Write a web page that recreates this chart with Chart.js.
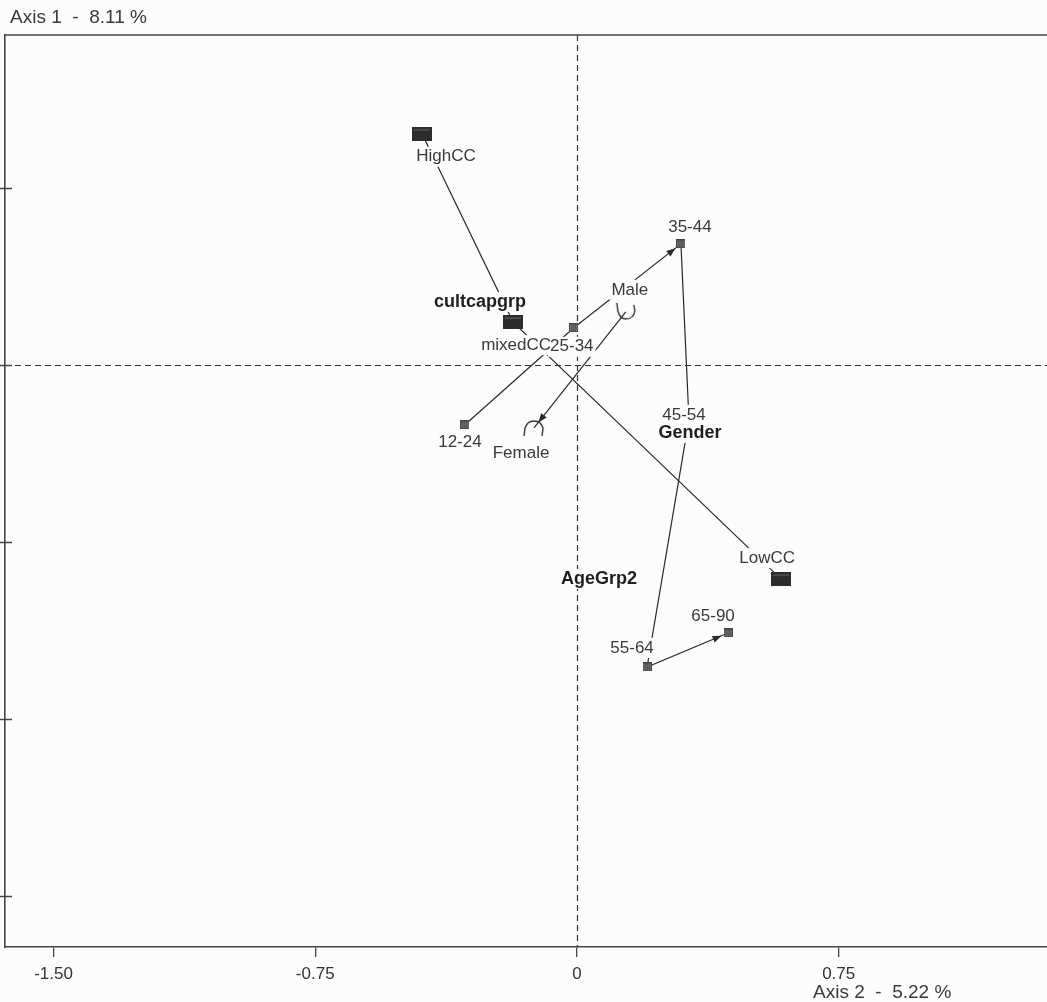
<!DOCTYPE html>
<html>
<head>
<meta charset="utf-8">
<script src="https://cdn.jsdelivr.net/npm/chart.js@4.4.1/dist/chart.umd.min.js"></script>
<style>
  html, body { margin: 0; padding: 0; background: #fcfcfc; }
  #wrap { width: 1047px; height: 1002px; }
</style>
</head>
<body>
<div id="wrap"><canvas id="ca" width="1047" height="1002"></canvas></div>
<script>
// Correspondence analysis map: category coordinates on axis 2 (horizontal) and axis 1 (vertical)
const cultcapCategories = ['HighCC', 'mixedCC', 'LowCC'];
const cultcapAxis2 = [-0.444, -0.183, 0.585];
const cultcapAxis1 = [0.653, 0.121, -0.605];

const ageCategories = ['12-24', '25-34', '35-44', '45-54', '55-64', '65-90'];
const ageAxis2 = [-0.321, -0.009, 0.298, 0.321, 0.201, 0.433];
const ageAxis1 = [-0.169, 0.105, 0.342, -0.155, -0.853, -0.757];

const genderCategories = ['Male', 'Female'];
const genderAxis2 = [0.140, -0.123];
const genderAxis1 = [0.150, -0.178];

const variableNames = ['cultcapgrp', 'AgeGrp2', 'Gender'];
const axisTitles = ['Axis 1  -  8.11 %', 'Axis 2  -  5.22 %'];
const xTickValues = [-1.5, -0.75, 0, 0.75];
const xTickLabels = ['-1.50', '-0.75', '0', '0.75'];
const yTickValues = [0.5, 0, -0.5, -1, -1.5];

// ---- presentation settings ----
const INK = '#2a2a2a';
const TEXT = '#3a3a3a';
const BG = '#fcfcfc';
const FONT = '"Liberation Sans", Arial, sans-serif';

// label offsets (px) from each category point
const labelOffsets = {
  'HighCC': [24, 23], 'mixedCC': [3, 23], 'LowCC': [-14, -21],
  '12-24': [-5, 18], '25-34': [-2, 19], '35-44': [9, -17], '45-54': [-5, -5],
  '55-64': [-15, -19], '65-90': [-15, -17],
  'Male': [4, -22], 'Female': [-13, 25]
};
// variable-name labels, placed relative to one of their categories
const groupLabelAnchors = {
  'cultcapgrp': ['mixedCC', -33, -20],
  'AgeGrp2': ['55-64', -48, -88],
  'Gender': ['45-54', 1, 13]
};
const arrowSegments = [['25-34', '35-44'], ['55-64', '65-90'], ['Male', 'Female']];

function makeCanvas(w, h, draw) {
  const c = document.createElement('canvas');
  c.width = w; c.height = h;
  draw(c.getContext('2d'));
  return c;
}
const blockMarker = makeCanvas(20, 14, g => {
  g.fillStyle = '#2c2c2c'; g.fillRect(0, 0, 20, 14);
  g.fillStyle = '#4a4a4a'; g.fillRect(2, 2, 16, 2);
});
const hatchMarker = makeCanvas(9, 9, g => {
  g.fillStyle = '#8c8c8c'; g.fillRect(0, 0, 9, 9);
  g.fillStyle = '#333'; for (let i = 0; i < 9; i += 2) g.fillRect(i, 0, 1, 9);
  g.strokeStyle = '#444'; g.lineWidth = 1; g.strokeRect(0.5, 0.5, 8, 8);
});
const cupMarker = makeCanvas(26, 20, g => {
  g.strokeStyle = '#333'; g.lineWidth = 1.4; g.beginPath();
  g.moveTo(4, 1); g.lineTo(5, 9); g.quadraticCurveTo(7, 17, 13, 17);
  g.quadraticCurveTo(21, 17, 22, 9); g.lineTo(21, 3); g.stroke();
});
const capMarker = makeCanvas(26, 20, g => {
  g.strokeStyle = '#333'; g.lineWidth = 1.4; g.beginPath();
  g.moveTo(3, 18); g.lineTo(4, 10); g.quadraticCurveTo(6, 3, 13, 3);
  g.quadraticCurveTo(20, 3, 22, 10); g.lineTo(21, 18); g.stroke();
});

const toPoints = (xs, ys) => xs.map((x, i) => ({ x: x, y: ys[i] }));
const positions = {};
[[cultcapCategories, cultcapAxis2, cultcapAxis1],
 [ageCategories, ageAxis2, ageAxis1],
 [genderCategories, genderAxis2, genderAxis1]].forEach(([names, xs, ys]) => {
  names.forEach((n, i) => { positions[n] = { x: xs[i], y: ys[i] }; });
});

function pix(chart, name) {
  const p = positions[name];
  return { x: chart.scales.x.getPixelForValue(p.x), y: chart.scales.y.getPixelForValue(p.y) };
}

const overlay = {
  id: 'caOverlay',
  beforeDraw(chart) {
    const ctx = chart.ctx;
    ctx.save();
    ctx.fillStyle = BG;
    ctx.fillRect(0, 0, chart.width, chart.height);
    ctx.restore();
  },
  beforeDatasetsDraw(chart) {
    const { ctx, chartArea: a, scales } = chart;
    ctx.save();
    // origin lines
    ctx.strokeStyle = '#333';
    ctx.lineWidth = 1.2;
    ctx.setLineDash([6, 4]);
    const x0 = Math.round(scales.x.getPixelForValue(0)) + 0.5;
    const y0 = Math.round(scales.y.getPixelForValue(0)) + 0.5;
    ctx.beginPath();
    ctx.moveTo(x0, a.top); ctx.lineTo(x0, a.bottom);
    ctx.moveTo(a.left, y0); ctx.lineTo(a.right, y0);
    ctx.stroke();
    ctx.setLineDash([]);
    // frame top edge
    ctx.strokeStyle = '#444';
    ctx.lineWidth = 1.6;
    ctx.beginPath();
    ctx.moveTo(a.left, a.top); ctx.lineTo(a.right, a.top);
    ctx.stroke();
    // vertical axis tick marks (crossing the axis)
    ctx.lineWidth = 1.3;
    ctx.beginPath();
    yTickValues.forEach(v => {
      const y = Math.round(scales.y.getPixelForValue(v)) + 0.5;
      ctx.moveTo(0, y); ctx.lineTo(a.left + 7, y);
    });
    ctx.stroke();
    ctx.restore();
  },
  afterDatasetsDraw(chart) {
    const ctx = chart.ctx;
    ctx.save();
    // arrow heads
    ctx.fillStyle = INK;
    arrowSegments.forEach(([from, to]) => {
      const p = pix(chart, from), q = pix(chart, to);
      const dx = q.x - p.x, dy = q.y - p.y, len = Math.hypot(dx, dy);
      const ux = dx / len, uy = dy / len;
      const tx = q.x - ux * 7, ty = q.y - uy * 7;
      const bx = tx - ux * 9, by = ty - uy * 9;
      ctx.beginPath();
      ctx.moveTo(tx, ty);
      ctx.lineTo(bx - uy * 3.5, by + ux * 3.5);
      ctx.lineTo(bx + uy * 3.5, by - ux * 3.5);
      ctx.closePath();
      ctx.fill();
    });
    // labels: all backgrounds first, then the text on top
    const items = [];
    Object.keys(labelOffsets).forEach(name => {
      const p = pix(chart, name);
      const [ox, oy] = labelOffsets[name];
      items.push({ text: name, x: p.x + ox, y: p.y + oy, font: '17px ' + FONT, color: TEXT });
    });
    variableNames.forEach(v => {
      const [anchor, ox, oy] = groupLabelAnchors[v];
      const p = pix(chart, anchor);
      items.push({ text: v, x: p.x + ox, y: p.y + oy, font: 'bold 18px ' + FONT, color: '#1e1e1e' });
    });
    ctx.fillStyle = BG;
    items.forEach(it => {
      ctx.font = it.font;
      const w = ctx.measureText(it.text).width;
      ctx.fillRect(it.x - w / 2 - 2, it.y - 10, w + 4, 20);
    });
    ctx.textAlign = 'center';
    ctx.textBaseline = 'middle';
    items.forEach(it => {
      ctx.font = it.font;
      ctx.fillStyle = it.color;
      ctx.fillText(it.text, it.x, it.y);
    });
    ctx.restore();
  },
  afterDraw(chart) {
    const ctx = chart.ctx;
    ctx.save();
    ctx.fillStyle = TEXT;
    ctx.font = '19px ' + FONT;
    ctx.textAlign = 'left';
    ctx.textBaseline = 'middle';
    ctx.fillText(axisTitles[0], 10, 18);
    ctx.fillText(axisTitles[1], 813, 993);
    ctx.restore();
  }
};

const lineStyle = { showLine: true, pointRadius: 0, borderColor: INK, borderWidth: 1.2, fill: false };

new Chart(document.getElementById('ca'), {
  type: 'scatter',
  data: {
    datasets: [
      { label: 'cultcapgrp', data: toPoints(cultcapAxis2, cultcapAxis1), pointStyle: blockMarker, pointRadius: 6 },
      { label: 'AgeGrp2', data: toPoints(ageAxis2, ageAxis1), pointStyle: hatchMarker, pointRadius: 5 },
      { label: 'Gender', data: toPoints(genderAxis2, genderAxis1), pointStyle: [cupMarker, capMarker], pointRadius: 6 },
      Object.assign({ label: 'cultcapgrp path', data: toPoints(cultcapAxis2, cultcapAxis1) }, lineStyle),
      Object.assign({ label: 'AgeGrp2 path', data: toPoints(ageAxis2, ageAxis1) }, lineStyle),
      Object.assign({ label: 'Gender path', data: toPoints(genderAxis2, genderAxis1) }, lineStyle)
    ]
  },
  options: {
    responsive: false,
    animation: false,
    events: [],
    layout: { autoPadding: false, padding: { top: 35, right: 0, left: 0, bottom: 0 } },
    plugins: { legend: { display: false }, tooltip: { enabled: false } },
    scales: {
      x: {
        type: 'linear',
        position: 'bottom',
        min: -1.639,
        max: 1.347,
        afterBuildTicks: s => { s.ticks = xTickValues.map(v => ({ value: v })); },
        afterFit: s => { s.height = 55; s.paddingLeft = 0; s.paddingRight = 0; },
        grid: { drawOnChartArea: false, drawTicks: true, tickLength: 10, color: '#444', lineWidth: 1.3 },
        border: { display: true, color: '#444', width: 1.6 },
        ticks: {
          autoSkip: false, maxRotation: 0, padding: 7, color: '#333',
          font: { family: FONT, size: 17 },
          callback: (v, i) => xTickLabels[i]
        }
      },
      y: {
        type: 'linear',
        position: 'left',
        min: -1.644,
        max: 0.932,
        afterFit: s => { s.width = 5; s.paddingTop = 0; s.paddingBottom = 0; },
        grid: { display: false },
        border: { display: true, color: '#444', width: 1.6 },
        ticks: { display: false }
      }
    }
  },
  plugins: [overlay]
});
</script>
</body>
</html>
